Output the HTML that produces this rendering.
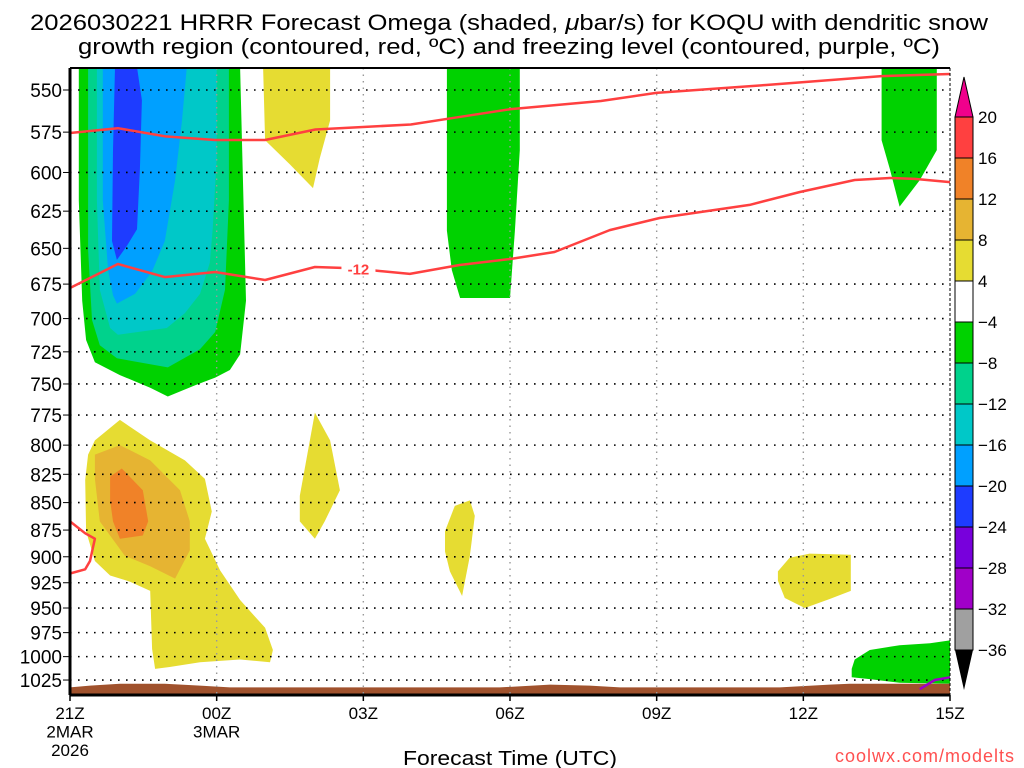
<!DOCTYPE html>
<html><head><meta charset="utf-8">
<style>
html,body{margin:0;padding:0;background:#fff;}
svg{display:block;font-family:"Liberation Sans",sans-serif;}
</style></head>
<body>
<svg id="chart" width="1024" height="768" viewBox="0 0 1024 768" xmlns="http://www.w3.org/2000/svg">
<rect width="1024" height="768" fill="#fff"/>
<text x="30" y="30" textLength="958" lengthAdjust="spacingAndGlyphs" font-size="22" fill="#000">2026030221 HRRR Forecast Omega (shaded, <tspan font-style="italic">μ</tspan>bar/s) for KOQU with dendritic snow</text>
<text x="78" y="54" textLength="862" lengthAdjust="spacingAndGlyphs" font-size="22" fill="#000">growth region (contoured, red, ºC) and freezing level (contoured, purple, ºC)</text>
<g id="shading"></g>
<g id="grid"></g>
<g id="lines"></g>
<g id="axes"></g>
<g id="cbar"></g>
<text x="403" y="765" textLength="214" lengthAdjust="spacingAndGlyphs" font-size="20" fill="#000">Forecast Time (UTC)</text>
<text x="1015" y="762" text-anchor="end" font-size="18" fill="#ff5050" letter-spacing="1">coolwx.com/modelts</text>
</svg>
<script>
// ---- data ----
const pressureTicks = [550,575,600,625,650,675,700,725,750,775,800,825,850,875,900,925,950,975,1000,1025];
const hourTicks = [0,3,6,9,12,15,18];
const hourLabels = [["21Z","2MAR","2026"],["00Z","3MAR"],["03Z"],["06Z"],["09Z"],["12Z"],["15Z"]];
const cbarLevels = [20,16,12,8,4,-4,-8,-12,-16,-20,-24,-28,-32,-36];
const cbarColors = ["#ff4040","#f08228","#e6b432","#e6dc32","#ffffff","#00d200","#00d28c","#00c8c8","#00a0ff","#1e3cff","#7800dc","#a000c8","#a0a0a0"];
// shaded regions: [hour, pressure]
const greenMain = [[0.18,537],[0.18,618],[0.25,687],[0.33,716],[0.51,733],[1.02,743],[1.64,753],[2.0,760],[2.56,751],[2.97,745],[3.27,739],[3.48,727],[3.6,687],[3.48,537]];
const tealMain = [[0.37,537],[0.37,651],[0.45,701],[0.61,720],[0.96,730],[2.0,737],[2.66,723],[2.97,710],[3.17,679],[3.25,618],[3.25,537]];
const cyanMain = [[0.55,537],[0.55,618],[0.61,679],[0.82,707],[0.98,712],[1.98,707],[2.35,696],[2.66,682],[2.86,660],[2.92,636],[3.0,591],[3.0,537]];
const lblueMain = [[0.67,537],[0.67,618],[0.78,665],[0.88,683],[0.96,689],[1.33,682],[1.68,666],[1.94,645],[2.15,605],[2.29,568],[2.39,537]];
const dblueMain = [[0.92,537],[0.88,586],[0.86,645],[0.96,658],[1.17,648],[1.37,637],[1.43,598],[1.47,556],[1.37,537]];
const yellowTop = [[3.95,537],[3.99,580],[4.5,595],[4.97,610],[5.11,591],[5.32,568],[5.32,537]];
const yellowBig = [[0.37,808],[0.51,796],[1.02,779],[1.64,796],[2.35,813],[2.76,829],[2.9,858],[2.76,883],[3.07,913],[3.48,942],[3.99,970],[4.15,993],[4.09,1006],[3.48,1003],[2.66,1006],[2.04,1011],[1.74,1013],[1.68,992],[1.64,933],[1.23,924],[0.82,918],[0.51,904],[0.33,876],[0.31,830]];
const amberBig = [[0.51,808],[1.02,800],[1.64,813],[2.25,839],[2.45,867],[2.45,894],[2.15,921],[1.64,909],[1.12,899],[0.61,867],[0.51,829]];
const orangeBig = [[0.82,827],[1.06,820],[1.49,839],[1.6,867],[1.49,880],[1.02,883],[0.88,867],[0.82,848]];
const yellowMid = [[4.7,844],[5.01,773],[5.32,796],[5.52,839],[5.21,867],[5.01,883],[4.7,867]];
const yellowSix = [[7.67,876],[7.87,853],[8.18,848],[8.28,862],[8.18,899],[8.02,938],[7.77,914],[7.67,895]];
const yellowNoon = [[14.48,914],[14.72,901],[15.13,897],[15.97,898],[15.97,933],[15.54,941],[15.03,950],[14.62,940],[14.48,923]];
const greenSix = [[7.71,537],[7.71,638],[7.81,665],[7.98,685],[9.0,685],[9.1,638],[9.2,586],[9.2,537]];
const greenTopRight = [[16.6,537],[16.6,580],[16.77,598],[16.97,622],[17.38,605],[17.73,586],[17.73,537]];
const greenBotRight = [[15.99,1013],[16.05,1003],[16.36,993],[16.97,988],[17.59,986],[18,983],[18,1029],[16.97,1028],[16.36,1024],[15.99,1022]];
const groundTop = [[0,1033],[0.41,1031],[1.02,1029],[1.94,1029],[2.66,1031],[3.27,1033],[8.79,1033],[9.82,1030],[10.63,1031],[11.25,1033],[14.52,1033],[15.54,1030],[15.95,1029],[18,1029]];
// contour lines
const dgzTop = [[0,575.5],[0.98,572.6],[1.95,577.6],[2.97,579.8],[3.99,579.8],[5.02,573.4],[6.97,570.4],[7.99,565.8],[9.02,561.2],[10.86,556.4],[11.99,551.7],[14.24,547.1],[16.6,542],[18,540.8]];
const dgzBottom = [[0,677.8],[0.98,660.8],[1.94,670],[2.97,666.4],[3.99,672.1],[5.01,662.9],[5.62,663.6],[6.13,665],[6.95,667.8],[7.97,661.5],[8.99,657.4],[9.91,652.5],[11.04,637.6],[12.06,629.5],[13.9,620.9],[14.93,612.5],[16.05,604.8],[16.77,603.5],[17.28,604.1],[18,606.1]];
const dgzLow = [[0,867],[0.31,878],[0.51,883],[0.41,904],[0.31,912],[0,916]];
const freezeLine = [[17.38,1035],[17.69,1025],[18,1022]];

// ---- axes ----
const X0=70, X1=950, Y0=68, Y1=695;
const X = h => X0 + h*(X1-X0)/18;
const Y = p => 90 + 947.8*Math.log(p/550);
const NS="http://www.w3.org/2000/svg";
function mk(tag, parent, attrs){const e=document.createElementNS(NS,tag);for(const k in attrs)e.setAttribute(k,attrs[k]);parent.appendChild(e);return e;}
const pts = arr => arr.map(d=>X(d[0]).toFixed(1)+","+Y(d[1]).toFixed(1)).join(" ");

const shading=document.getElementById('shading');
const regions=[[greenMain,"#00d200","region-green-main"],[tealMain,"#00d28c","region-teal-main"],[cyanMain,"#00c8c8","region-cyan-main"],[lblueMain,"#00a0ff","region-lightblue-main"],[dblueMain,"#1e3cff","region-darkblue-main"],
[yellowTop,"#e6dc32","region-yellow-top"],[yellowBig,"#e6dc32","region-yellow-low"],[amberBig,"#e6b432","region-amber-low"],[orangeBig,"#f08228","region-orange-low"],[yellowMid,"#e6dc32","region-yellow-mid"],[yellowSix,"#e6dc32","region-yellow-06z"],[yellowNoon,"#e6dc32","region-yellow-12z"],
[greenSix,"#00d200","region-green-06z"],[greenTopRight,"#00d200","region-green-top-right"],[greenBotRight,"#00d200","region-green-bottom-right"]];
regions.forEach(r=>{
  const e=mk('polygon',shading,{points:pts(r[0]),fill:r[1]});
  
  
});
const gpts=groundTop.concat([[18,1041],[0,1041]]);
const ground=mk('polygon',shading,{points:pts(gpts),fill:"#a0522d"});



const grid=document.getElementById('grid');
pressureTicks.forEach(p=>{
  const l=mk('line',grid,{x1:X0,x2:X1,y1:Y(p),y2:Y(p),stroke:"#000","stroke-width":1.6,"stroke-dasharray":"1.6 6.4"});
  
  
});
hourTicks.slice(1,6).forEach(h=>{
  const l=mk('line',grid,{x1:X(h),x2:X(h),y1:Y0,y2:Y1,stroke:"#999","stroke-width":1.4,"stroke-dasharray":"1.5 5"});
  
  
});

const lines=document.getElementById('lines');
[[dgzTop,"dgz-contour-upper"],[dgzBottom,"dgz-contour-lower"],[dgzLow,"dgz-contour-low-left"]].forEach(d=>{
  const e=mk('polyline',lines,{points:pts(d[0]),fill:"none",stroke:"#ff4040","stroke-width":2.5,"stroke-linejoin":"round"});
  
  
});
const fz=mk('polyline',lines,{points:pts(freezeLine),fill:"none",stroke:"#a000c8","stroke-width":2.5});


const lb=mk('rect',lines,{x:X(5.9)-17,y:Y(664)-9,width:34,height:17,fill:"#fff"});


const lt=mk('text',lines,{x:X(5.9),y:Y(664)+6,"text-anchor":"middle","font-size":15,"font-weight":"bold",fill:"#ff4040"});
lt.textContent="-12";



const axes=document.getElementById('axes');
const frame=mk('rect',axes,{x:X0,y:Y0,width:X1-X0,height:Y1-Y0,fill:"none",stroke:"#000","stroke-width":1,"stroke-dasharray":"3 2"});


const la=mk('line',axes,{x1:X0,x2:X0,y1:Y0,y2:Y1,stroke:"#000","stroke-width":3});


const ba=mk('line',axes,{x1:X0,x2:X1,y1:Y1,y2:Y1,stroke:"#000","stroke-width":3});


const ta=mk('line',axes,{x1:X0,x2:X1,y1:Y0,y2:Y0,stroke:"#000","stroke-width":2});


pressureTicks.forEach(p=>{
  const t=mk('text',axes,{x:62,y:Y(p)+7,"text-anchor":"end","font-size":19,fill:"#000"});
  t.textContent=p;
  
  
  mk('line',axes,{x1:63,x2:X0,y1:Y(p),y2:Y(p),stroke:"#000","stroke-width":1});
});
hourTicks.forEach((h,i)=>{
  mk('line',axes,{x1:X(h),x2:X(h),y1:Y1,y2:Y1+6,stroke:"#000","stroke-width":1.5});
  hourLabels[i].forEach((s,j)=>{
    const t=mk('text',axes,{x:X(h),y:719+j*18.5,"text-anchor":"middle","font-size":17,fill:"#000"});
    t.textContent=s;
    
    
  });
});

const cbar=document.getElementById('cbar');
const CX=955, CW=18, CT=117, CS=41;
const tri1=mk('polygon',cbar,{points:`${CX},${CT} ${CX+CW},${CT} ${CX+CW/2},${CT-40}`,fill:"#f0008c",stroke:"#000","stroke-width":1});


cbarColors.forEach((c,i)=>{
  const r=mk('rect',cbar,{x:CX,y:CT+i*CS,width:CW,height:CS,fill:c,stroke:"#000","stroke-width":1});
  
  
});
const yb=CT+cbarColors.length*CS;
const tri2=mk('polygon',cbar,{points:`${CX},${yb} ${CX+CW},${yb} ${CX+CW/2},${yb+40}`,fill:"#000"});


cbarLevels.forEach((v,i)=>{
  const t=mk('text',cbar,{x:978,y:CT+i*CS+6,"font-size":17,fill:"#000"});
  t.textContent=v<0?"\u2212"+(-v):String(v);
  
  
});
</script>
</body></html>
